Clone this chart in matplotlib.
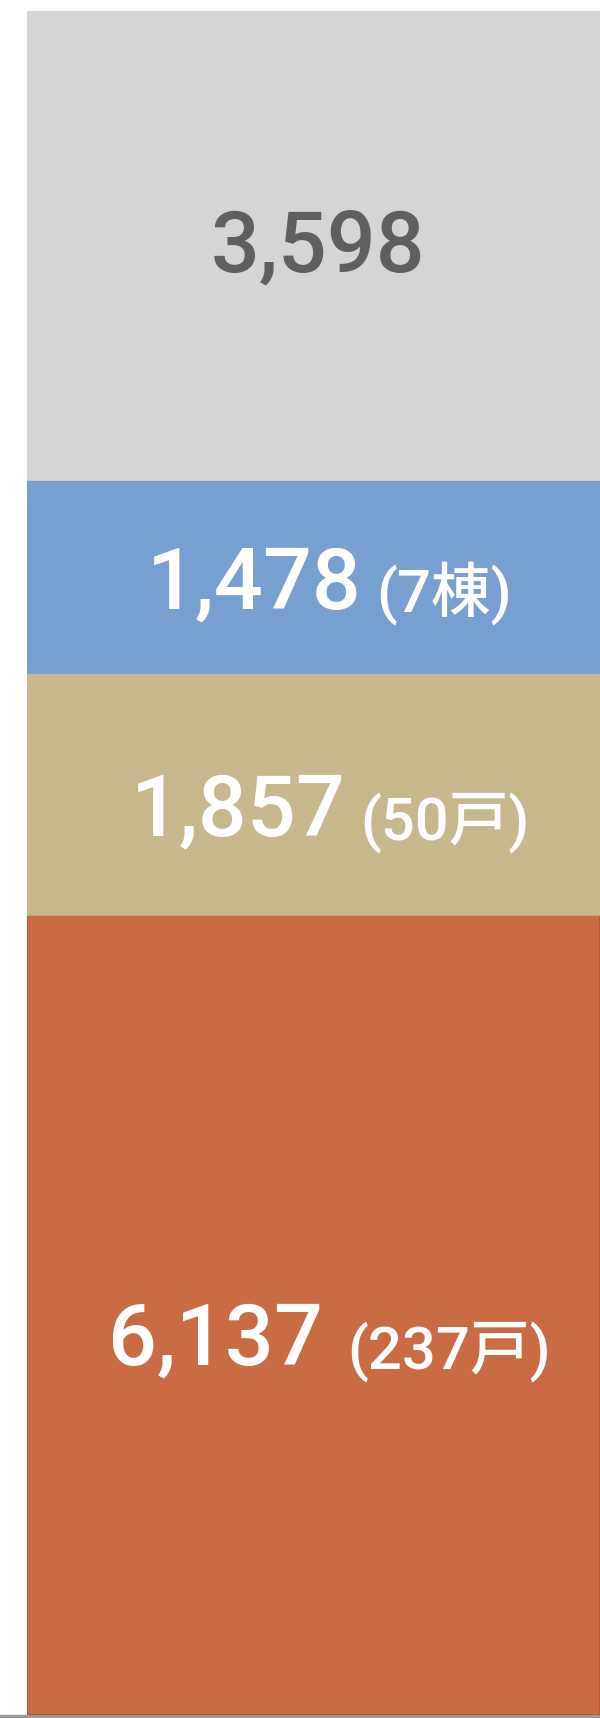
import matplotlib.pyplot as plt
from matplotlib.lines import Line2D

# stacked segments, bottom to top
values = [6137, 1857, 1478, 3598]
labels = ["6,137", "1,857", "1,478", "3,598"]
sub_labels = ["(237戸)", "(50戸)", "(7棟)", ""]
colors = ["#c96c43", "#c6b88c", "#779fcf", "#d5d5d5"]
edge_colors = ["#b3552e", "#c6b88c", "#779fcf", "#d5d5d5"]
text_colors = ["white", "white", "white", "#5f5f5f"]

# label placement (pixels): centre x of the main number, baseline below segment middle
label_x_px = [215, 238, 254, 318]
baseline_drop_px = [50, 42, 32, 26]
sub_gap_pt = [18, 11, 11, 0]

W, H = 600, 1718
fig = plt.figure(figsize=(W / 100, H / 100), dpi=100)
ax = fig.add_axes([27 / W, 3 / H, 1 - 27 / W, 1 - 14 / H])

# gray base line under the bar
fig.add_artist(Line2D([0, 1], [2 / H, 2 / H], color="#9a9a9a", lw=2.5, zorder=0))

total = sum(values)
bottom = 0
mids = []
for v, c, ec in zip(values, colors, edge_colors):
    ax.bar(0, v, width=1, bottom=bottom, color=c, edgecolor=ec, linewidth=1.2, zorder=2)
    mids.append(bottom + v / 2)
    bottom += v

ax.set_xlim(-0.5, 0.5)
ax.set_ylim(0, total)
ax.axis("off")

fam = ["Roboto", "Noto Sans CJK JP"]
for lab, sub, mid, xp, drop, gap, tc in zip(labels, sub_labels, mids, label_x_px,
                                             baseline_drop_px, sub_gap_pt, text_colors):
    xd = -0.5 + (xp - 27) / (W - 27)
    main = ax.annotate(lab, xy=(xd, mid), xytext=(0, -drop * 0.72), textcoords="offset points",
                       ha="center", va="baseline", fontsize=62, color=tc,
                       family=fam, fontweight="medium", zorder=3)
    if sub:
        ax.annotate(sub, xy=(1, 0), xycoords=main, xytext=(gap, 0), textcoords="offset points",
                    ha="left", va="bottom", fontsize=43, color=tc,
                    family=fam, fontweight="medium", zorder=3)

plt.savefig("out.png", dpi=100)
